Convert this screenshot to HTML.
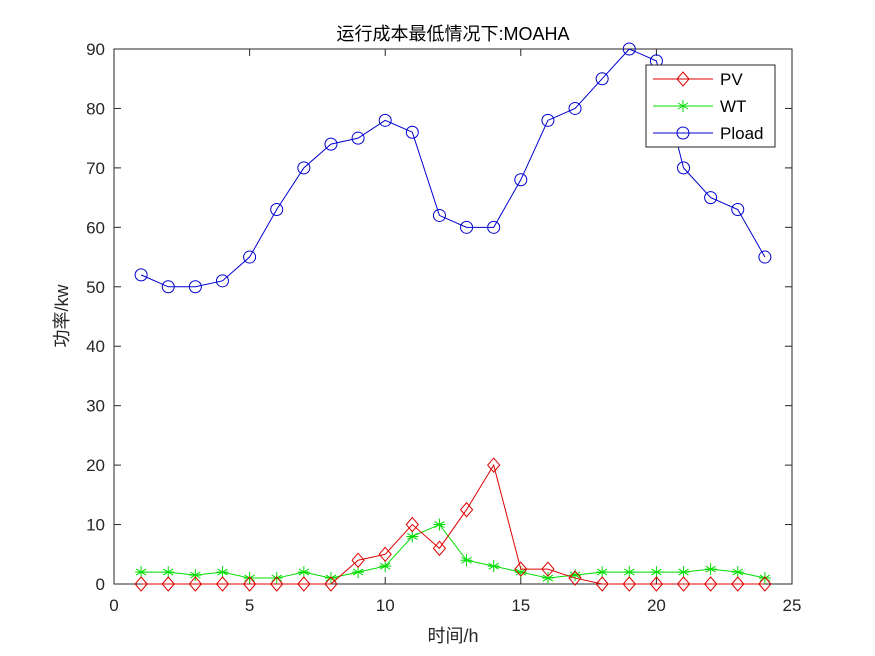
<!DOCTYPE html>
<html><head><meta charset="utf-8"><style>
body{margin:0;background:#fff;}
svg{display:block;font-family:"Liberation Sans","Noto Sans CJK SC",sans-serif;}
</style></head><body>
<svg id="s" width="875" height="656" viewBox="0 0 875 656">
<rect x="0" y="0" width="875" height="656" fill="#fff"/>
<rect x="114" y="49" width="678" height="535" fill="#fff" stroke="#262626" stroke-width="1"/>
<g id="ticks" stroke="#262626" stroke-width="1"></g>
<g id="labels" fill="#262626" font-size="17"></g>
<g id="data"></g>
<text x="453" y="40" text-anchor="middle" font-size="18" fill="#000">运行成本最低情况下:MOAHA</text>
<text x="453" y="642" text-anchor="middle" font-size="18" fill="#262626">时间/h</text>
<text transform="translate(68,316) rotate(-90)" text-anchor="middle" font-size="18" fill="#262626">功率/kw</text>
<g>
<rect x="646" y="65" width="129" height="82" fill="#fff" stroke="#262626" stroke-width="1"/>
<line x1="653" y1="79" x2="713" y2="79" stroke="#e00000"/>
<path d="M683 72 L689 79 L683 86 L677 79 Z" fill="none" stroke="#e00000"/>
<text x="720" y="85" font-size="17" fill="#000">PV</text>
<line x1="653" y1="106" x2="713" y2="106" stroke="#00dd00"/>
<path d="M683 100 V112 M678 103 L688 109 M678 109 L688 103" stroke="#00dd00"/>
<text x="720" y="112" font-size="17" fill="#000">WT</text>
<line x1="653" y1="133" x2="713" y2="133" stroke="#0000d0"/>
<circle cx="683" cy="133" r="6" fill="none" stroke="#0000d0"/>
<text x="720" y="139" font-size="17" fill="#000">Pload</text>
</g>
</svg>
<script>
const X=v=>114+v*678/25, Y=v=>584-v*535/90;
const ns="http://www.w3.org/2000/svg";
function el(p,t,a,txt){const e=document.createElementNS(ns,t);for(const k in a)e.setAttribute(k,a[k]);if(txt!==undefined)e.textContent=txt;p.appendChild(e);return e;}
const tk=document.getElementById('ticks'),lb=document.getElementById('labels');
for(let i=0;i<=25;i+=5){el(tk,'line',{x1:X(i),x2:X(i),y1:584,y2:577});el(tk,'line',{x1:X(i),x2:X(i),y1:49,y2:56});el(lb,'text',{x:X(i),y:611,'text-anchor':'middle'},i);}
for(let i=0;i<=90;i+=10){el(tk,'line',{x1:114,x2:121,y1:Y(i),y2:Y(i)});el(tk,'line',{x1:792,x2:785,y1:Y(i),y2:Y(i)});el(lb,'text',{x:105,y:Y(i)+6,'text-anchor':'end'},i);}
const PV=[0,0,0,0,0,0,0,0,4,5,10,6,12.5,20,2.5,2.5,1,0,0,0,0,0,0,0];
const WT=[2,2,1.5,2,1,1,2,1,2,3,8,10,4,3,2,1,1.5,2,2,2,2,2.5,2,1];
const PL=[52,50,50,51,55,63,70,74,75,78,76,62,60,60,68,78,80,85,90,88,70,65,63,55];
const d=document.getElementById('data');
function series(arr,col,mk){
 el(d,'polyline',{points:arr.map((v,i)=>X(i+1)+','+Y(v)).join(' '),fill:'none',stroke:col,'stroke-width':1});
 arr.forEach((v,i)=>{const x=X(i+1),y=Y(v);
  if(mk=='d')el(d,'path',{d:`M${x} ${y-7}L${x+6} ${y}L${x} ${y+7}L${x-6} ${y}Z`,fill:'none',stroke:col});
  else if(mk=='s')el(d,'path',{d:`M${x} ${y-6}V${y+6}M${x-5} ${y-3}L${x+5} ${y+3}M${x-5} ${y+3}L${x+5} ${y-3}M${x-6} ${y}H${x+6}`,stroke:col});
  else el(d,'circle',{cx:x,cy:y,r:6,fill:'none',stroke:col});});
}
series(PL,'#0000d0','o');series(WT,'#00dd00','s');series(PV,'#e00000','d');
</script>
</body></html>
